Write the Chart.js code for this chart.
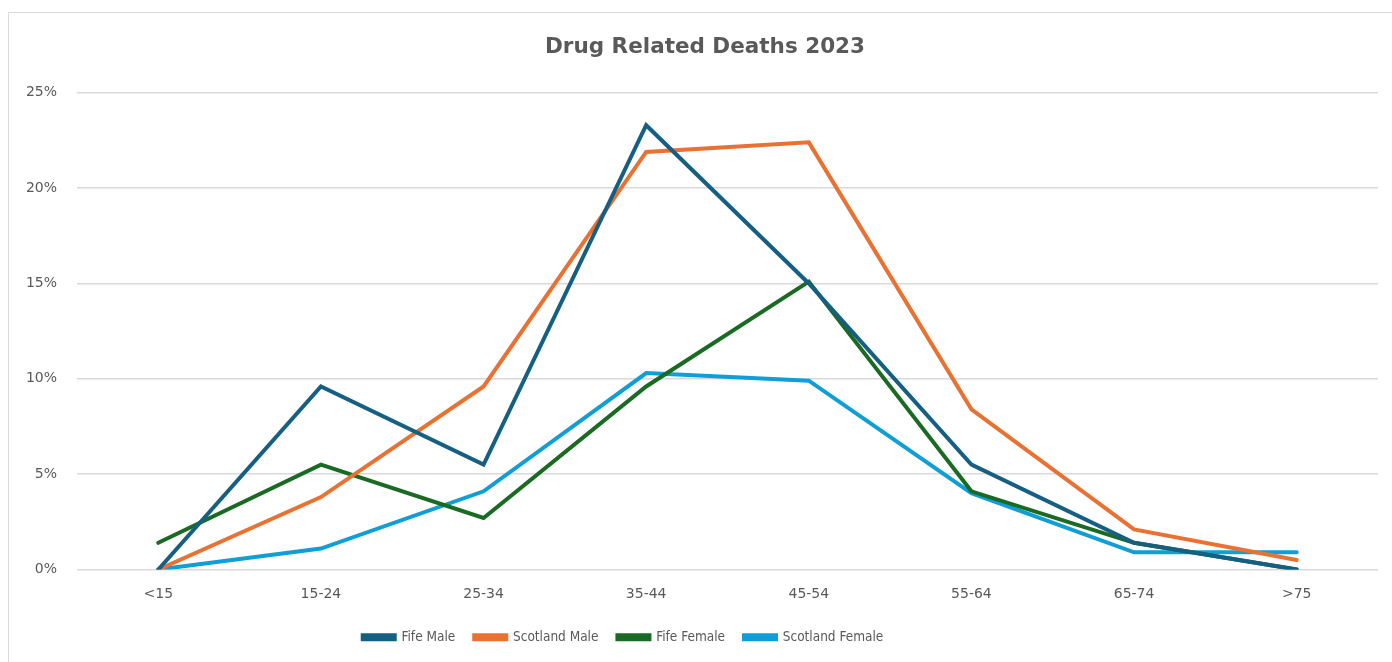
<!DOCTYPE html>
<html>
<head>
<meta charset="utf-8">
<script src="https://cdn.jsdelivr.net/npm/chart.js@4.4.1/dist/chart.umd.min.js"></script>
<style>
  html, body { margin: 0; padding: 0; background: #ffffff; overflow: hidden; width: 1392px; height: 662px; }
  #frame { position: absolute; left: 8px; top: 12px; width: 1384px; height: 650px; border-top: 1px solid #d9d9d9; border-left: 1px solid #d9d9d9; box-sizing: border-box; }
  #wrap { position: absolute; left: 0; top: 0; width: 1392px; height: 662px; }
</style>
</head>
<body>
<div id="frame"></div>
<div id="wrap"><canvas id="c" width="1392" height="662"></canvas></div>
<script>
// Age bands and share of drug related deaths (%) in 2023
const ageBands = ['<15', '15-24', '25-34', '35-44', '45-54', '55-64', '65-74', '>75'];
const fifeMale = [0, 9.6, 5.5, 23.3, 15.0, 5.5, 1.4, 0];
const scotlandMale = [0, 3.8, 9.6, 21.9, 22.4, 8.4, 2.1, 0.5];
const fifeFemale = [1.4, 5.5, 2.7, 9.6, 15.1, 4.1, 1.4, 0];
const scotlandFemale = [0, 1.1, 4.1, 10.3, 9.9, 4.0, 0.9, 0.9];
const yTicks = [0, 5, 10, 15, 20, 25];

const grey = '#595959';

function series(label, data, color) {
  return {
    label, data,
    borderColor: color, backgroundColor: color,
    borderWidth: 4, pointRadius: 0, tension: 0,
    borderCapStyle: 'round', borderJoinStyle: 'miter'
  };
}

// Nudge the title and legend horizontally after layout
const blockShift = {
  id: 'blockShift',
  afterLayout(chart) {
    const t = chart.titleBlock, l = chart.legend;
    if (t) { t.left += 16; t.right += 16; }
    if (l) { l.left -= 66; l.right -= 66; }
  }
};

new Chart(document.getElementById('c'), {
  type: 'line',
  data: {
    labels: ageBands,
    datasets: [
      series('Fife Male', fifeMale, '#156082'),
      series('Scotland Male', scotlandMale, '#E97132'),
      series('Fife Female', fifeFemale, '#196B24'),
      series('Scotland Female', scotlandFemale, '#0F9ED5')
    ]
  },
  plugins: [blockShift],
  options: {
    responsive: false,
    animation: false,
    layout: { padding: { left: 0, right: 14, top: 13, bottom: 8 } },
    plugins: {
      title: {
        display: true,
        text: 'Drug Related Deaths 2023',
        color: grey,
        font: { family: 'DejaVu Sans', size: 21.5, weight: 'bold' },
        padding: { top: 22, bottom: 32 }
      },
      legend: {
        position: 'bottom',
        labels: {
          color: grey,
          boxWidth: 32,
          boxHeight: 4,
          padding: 19,
          font: { family: 'DejaVu Sans Condensed', size: 13.5 }
        }
      },
      tooltip: { enabled: false }
    },
    scales: {
      x: {
        offset: true,
        grid: { display: false },
        border: { display: false },
        ticks: { color: grey, font: { family: 'DejaVu Sans', size: 14 }, padding: 8 },
        afterFit: s => { s.height = 42; }
      },
      y: {
        min: 0, max: 25,
        afterBuildTicks: s => { s.ticks = yTicks.map(v => ({ value: v })); },
        grid: { color: '#d9d9d9', lineWidth: 1.5, drawTicks: false },
        border: { display: false },
        ticks: { color: grey, font: { family: 'DejaVu Sans', size: 14 }, padding: 20, callback: v => v + '%' },
        afterFit: s => { s.width = 77; }
      }
    }
  }
});
</script>
</body>
</html>
